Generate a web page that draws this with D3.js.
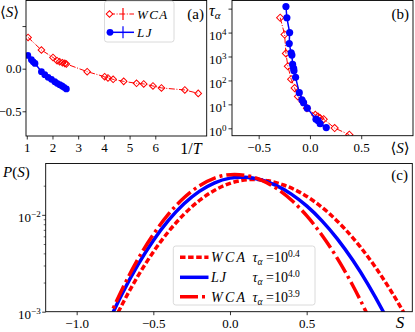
<!DOCTYPE html>
<html><head><meta charset="utf-8">
<script src="https://cdn.jsdelivr.net/npm/d3@7"></script>
<style>body{margin:0;background:#fff}</style>
</head><body>
<script>
// ---------- data ----------
// panel (a): <S> vs 1/T
const aWcaInvT = [1.05,1.57,2.02,2.18,2.28,2.39,2.48,2.54,3.35,4.03,4.16,4.36,4.77,5.27,5.55,5.91,6.24,7.15,7.67];
const aWcaS    = [0.367,0.219,0.132,0.094,0.082,0.070,0.062,0.055,-0.035,-0.094,-0.109,-0.125,-0.149,-0.172,-0.179,-0.203,-0.226,-0.250,-0.290];
const aLjInvT  = [1.04,1.18,1.25,1.32,1.57,1.70,1.83,1.96,2.09,2.18,2.28,2.37,2.45,2.54];
const aLjS     = [0.155,0.105,0.080,0.062,-0.035,-0.070,-0.102,-0.125,-0.152,-0.172,-0.188,-0.203,-0.219,-0.238];
const aXTicks = [1,2,3,4,5,6];
const aYTicks = [0.5,0.0,-0.5];
const aYTickLabels = ["","0.0","\u22120.5"];
// panel (b): tau_alpha vs <S>  (log10 tau)
const bWcaS      = [-0.290,-0.247,-0.234,-0.215,-0.183,-0.149,-0.117,-0.071,-0.029,0.052,0.078,0.100,0.134,0.241,0.384];
const bWcaLogTau = [4.62,3.92,3.13,2.59,2.05,1.68,1.33,1.11,0.84,0.56,0.49,0.42,0.38,0.01,-0.27];
const bLjS       = [-0.234,-0.225,-0.198,-0.202,-0.183,-0.176,-0.169,-0.159,-0.156,-0.140,-0.104,-0.078,-0.062,-0.026,0.059,0.078,0.100,0.159];
const bLjLogTau  = [5.09,4.62,4.00,3.54,3.15,3.06,2.67,2.50,2.40,2.13,1.49,1.19,1.07,0.84,0.38,0.32,0.19,0.03];
const bXTicks = [-0.5,0.0,0.5];
const bXTickLabels = ["\u22120.5","0.0","0.5"];
const bYTickExp = [0,1,2,3,4,5];
const bYTickLabels = ["0","1","2","3","4",""];
// panel (c): P(S) (log10 P)
const cWca04S    = [-0.8,-0.7,-0.6,-0.5,-0.4,-0.3,-0.2,-0.1,0.0,0.15,0.25,0.35,0.45,0.55,0.65,0.75,0.85,0.95,1.05,1.15,1.2];
const cWca04LogP = [-3.233,-2.915,-2.631,-2.383,-2.171,-1.994,-1.852,-1.746,-1.675,-1.635,-1.649,-1.692,-1.763,-1.862,-1.990,-2.147,-2.331,-2.544,-2.786,-3.056,-3.202];
const cLjS       = [-0.8,-0.7,-0.6,-0.5,-0.4,-0.3,-0.2,-0.1,0.0,0.07,0.1,0.2,0.3,0.4,0.5,0.6,0.7,0.8,0.9,1.0,1.05];
const cLjLogP    = [-3.133,-2.803,-2.514,-2.264,-2.055,-1.886,-1.758,-1.669,-1.621,-1.611,-1.612,-1.638,-1.696,-1.786,-1.908,-2.062,-2.248,-2.467,-2.717,-3.0,-3.153];
const cWca39S    = [-0.82,-0.7,-0.6,-0.5,-0.4,-0.3,-0.2,-0.1,0.03,0.1,0.2,0.3,0.4,0.5,0.6,0.7,0.8,0.9,0.95];
const cWca39LogP = [-3.175,-2.757,-2.457,-2.202,-1.990,-1.823,-1.700,-1.620,-1.583,-1.592,-1.639,-1.724,-1.847,-2.009,-2.210,-2.449,-2.727,-3.043,-3.216];
const cXTicks = [-1.0,-0.5,0.0,0.5];
const cXTickLabels = ["\u22121.0","\u22120.5","0.0","0.5"];
const cYTickExp = [-2,-3];
const cYTickLabels = ["\u22122","\u22123"];
const cYMinor = [0.002,0.003,0.004,0.005,0.006,0.007,0.008,0.009,0.02];
const legendA = ["WCA","LJ"];
const legendC = [["WCA","0.4"],["LJ","4.0"],["WCA","3.9"]];

// ---------- drawing ----------
const FONT = '"Liberation Serif","DejaVu Serif",serif';
const RED = "#ff0000", BLUE = "#0000ff";
const svg = d3.select("body").append("svg").attr("width",415).attr("height",332)
  .style("font-family",FONT);
const defs = svg.append("defs");
function clip(id,x0,y0,x1,y1){
  defs.append("clipPath").attr("id",id).append("rect")
    .attr("x",x0).attr("y",y0).attr("width",x1-x0).attr("height",y1-y0);
}
function styleAxis(g,fs){
  g.select(".domain").remove();
  g.selectAll(".tick line").attr("stroke","#000").attr("stroke-width",0.8);
  g.selectAll(".tick text").attr("font-family",FONT).attr("font-size",fs||13).attr("fill","#000");
}
function frame(b){
  svg.append("rect").attr("x",b.l).attr("y",b.t).attr("width",b.r-b.l).attr("height",b.b-b.t)
    .attr("fill","none").attr("stroke","#000").attr("stroke-width",0.9);
}
function diamond(sel,size){
  return sel.attr("d",d3.symbol().type(d3.symbolSquare).size(size)());
}

// ===== Panel (a) =====
const A = {l:26,r:206.7,t:0.5,b:136};
clip("clipA",A.l,A.t,A.r,A.b);
const xA = d3.scaleLinear().domain([0.97,8.0]).range([A.l,A.r]);
const yA = d3.scaleLinear().domain([-0.79,0.80]).range([A.b,A.t]);
const gA = svg.append("g").attr("clip-path","url(#clipA)");
const wcaA = aWcaInvT.map((v,i)=>[v,aWcaS[i]]);
const ljA = aLjInvT.map((v,i)=>[v,aLjS[i]]);
gA.append("path").datum(wcaA).attr("fill","none").attr("stroke",RED).attr("stroke-width",1)
  .attr("stroke-dasharray","6,1.6,1,1.6")
  .attr("d",d3.line().x(d=>xA(d[0])).y(d=>yA(d[1])));
gA.selectAll(".wd").data(wcaA).enter().append("path")
  .call(diamond,22).attr("transform",d=>`translate(${xA(d[0])},${yA(d[1])}) rotate(45)`)
  .attr("fill","none").attr("stroke",RED).attr("stroke-width",1);
gA.append("path").datum(ljA).attr("fill","none").attr("stroke",BLUE).attr("stroke-width",1.5)
  .attr("d",d3.line().x(d=>xA(d[0])).y(d=>yA(d[1])));
gA.selectAll(".lc").data(ljA).enter().append("circle")
  .attr("cx",d=>xA(d[0])).attr("cy",d=>yA(d[1])).attr("r",3.4).attr("fill",BLUE);
const axA = svg.append("g").attr("transform",`translate(0,${A.b})`)
  .call(d3.axisBottom(xA).tickValues(aXTicks).tickFormat(d3.format("d")).tickSize(3.5));
styleAxis(axA); axA.selectAll(".tick text").attr("y",16).attr("dy",0);
const ayA = svg.append("g").attr("transform",`translate(${A.l},0)`)
  .call(d3.axisLeft(yA).tickValues(aYTicks).tickFormat((d,i)=>aYTickLabels[i]).tickSize(3.5));
styleAxis(ayA, 12.5); ayA.selectAll(".tick text").attr("x",-4.5);
frame(A);
// labels
svg.append("text").attr("x",0).attr("y",17).attr("font-size",15)
  .call(t=>{t.append("tspan").text("\u27E8");t.append("tspan").attr("font-style","italic").text("S");t.append("tspan").text("\u27E9");});
svg.append("text").attr("x",204).attr("y",19).attr("text-anchor","end").attr("font-size",15).text("(a)");
svg.append("text").attr("x",191).attr("y",154).attr("text-anchor","middle").attr("font-size",16)
  .call(t=>{t.append("tspan").text("1/");t.append("tspan").attr("font-style","italic").text("T");});
// legend (a)
const lgA = svg.append("g");
lgA.append("rect").attr("x",104.5).attr("y",1).attr("width",69.5).attr("height",41).attr("rx",2.5)
  .attr("fill","#fff").attr("fill-opacity",0.85).attr("stroke","#d0d0d0").attr("stroke-width",0.8);
[[RED,14],[BLUE,32.3]].forEach(([c,y],i)=>{
  const g = lgA.append("g");
  g.append("line").attr("x1",109).attr("x2",134).attr("y1",y).attr("y2",y).attr("stroke",c)
    .attr("stroke-width",i===0?1:1.5).attr("stroke-dasharray",i===0?"6,1.6,1,1.6":null);
  g.append("line").attr("x1",123).attr("x2",123).attr("y1",y-6).attr("y2",y+6).attr("stroke",c).attr("stroke-width",1.2);
  if(i===0){ g.append("path").call(diamond,22).attr("transform",`translate(109.5,${y}) rotate(45)`)
      .attr("fill","#fff").attr("stroke",c).attr("stroke-width",1); }
  else { g.append("circle").attr("cx",110).attr("cy",y).attr("r",3.4).attr("fill",c); }
  g.append("text").attr("x",137).attr("y",y+4.5).attr("font-size",13).attr("font-style","italic")
    .attr("letter-spacing",1.4).text(legendA[i]);
});

// ===== Panel (b) =====
const B = {l:232,r:413,t:0.5,b:135.7};
clip("clipB",B.l,B.t,B.r,B.b);
const xB = d3.scaleLinear().domain([-0.76,1.005]).range([B.l,B.r]);
const yB = d3.scaleLog().domain([Math.pow(10,-0.31),Math.pow(10,5.34)]).range([B.b,B.t]);
const gB = svg.append("g").attr("clip-path","url(#clipB)");
const wcaB = bWcaS.map((v,i)=>[v,Math.pow(10,bWcaLogTau[i])]);
const ljB = bLjS.map((v,i)=>[v,Math.pow(10,bLjLogTau[i])]);
gB.append("path").datum(wcaB).attr("fill","none").attr("stroke",RED).attr("stroke-width",1)
  .attr("stroke-dasharray","6,1.6,1,1.6")
  .attr("d",d3.line().x(d=>xB(d[0])).y(d=>yB(d[1])));
gB.selectAll(".wd").data(wcaB).enter().append("path")
  .call(diamond,26).attr("transform",d=>`translate(${xB(d[0])},${yB(d[1])}) rotate(45)`)
  .attr("fill","none").attr("stroke",RED).attr("stroke-width",1);
gB.append("path").datum(ljB).attr("fill","none").attr("stroke",BLUE).attr("stroke-width",1.5)
  .attr("d",d3.line().x(d=>xB(d[0])).y(d=>yB(d[1])));
gB.selectAll(".lc").data(ljB).enter().append("circle")
  .attr("cx",d=>xB(d[0])).attr("cy",d=>yB(d[1])).attr("r",3.6).attr("fill",BLUE);
const axB = svg.append("g").attr("transform",`translate(0,${B.b})`)
  .call(d3.axisBottom(xB).tickValues(bXTicks).tickFormat((d,i)=>bXTickLabels[i]).tickSize(3.5));
styleAxis(axB); axB.selectAll(".tick text").attr("y",16.3).attr("dy",0);
const ayB = svg.append("g").attr("transform",`translate(${B.l},0)`)
  .call(d3.axisLeft(yB).tickValues(bYTickExp.map(e=>Math.pow(10,e))).tickFormat("").tickSize(3.5));
styleAxis(ayB);
ayB.selectAll(".tick text").each(function(d,i){
  const t = d3.select(this); t.text(null); t.attr("dy","0.55em").attr("x",-5.5);
  if(bYTickLabels[i]==="") return;
  t.append("tspan").text("10");
  t.append("tspan").attr("dy",-5).attr("font-size",9).text(bYTickLabels[i]);
});
frame(B);
svg.append("text").attr("x",209).attr("y",16).attr("font-size",16)
  .call(t=>{t.append("tspan").attr("font-style","italic").text("\u03C4");
            t.append("tspan").attr("dy",3).attr("font-size",11).attr("font-style","italic").text("\u03B1");});
svg.append("text").attr("x",409).attr("y",19).attr("text-anchor","end").attr("font-size",15).text("(b)");
svg.append("text").attr("x",400).attr("y",153).attr("text-anchor","middle").attr("font-size",15)
  .call(t=>{t.append("tspan").text("\u27E8");t.append("tspan").attr("font-style","italic").text("S");t.append("tspan").text("\u27E9");});

// ===== Panel (c) =====
const C = {l:45.7,r:412.3,t:163.5,b:311.7};
clip("clipC",C.l,C.t,C.r,C.b);
const xC = d3.scaleLinear().domain([-1.202,1.189]).range([C.l,C.r]);
const yC = d3.scaleLog().domain([1e-3,Math.pow(10,-1.47)]).range([C.b,C.t]);
const gC = svg.append("g").attr("clip-path","url(#clipC)");
const lineC = d3.line().curve(d3.curveMonotoneX).x(d=>xC(d[0])).y(d=>yC(d[1]));
const seriesC = [
  {s:cWca04S,p:cWca04LogP,c:RED,dash:"5.5,2.6",w:3.5},
  {s:cLjS,p:cLjLogP,c:BLUE,dash:null,w:3.5},
  {s:cWca39S,p:cWca39LogP,c:RED,dash:"18,4,3,4",w:3.5}
];
seriesC.forEach(o=>{
  gC.append("path").datum(o.s.map((v,i)=>[v,Math.pow(10,o.p[i])]))
    .attr("fill","none").attr("stroke",o.c).attr("stroke-width",o.w)
    .attr("stroke-dasharray",o.dash).attr("d",lineC);
});
const axC = svg.append("g").attr("transform",`translate(0,${C.b})`)
  .call(d3.axisBottom(xC).tickValues(cXTicks).tickFormat((d,i)=>cXTickLabels[i]).tickSize(3.5));
styleAxis(axC); axC.selectAll(".tick text").attr("y",16.5).attr("dy",0);
const ayCm = svg.append("g").attr("transform",`translate(${C.l},0)`)
  .call(d3.axisLeft(yC).tickValues(cYMinor).tickFormat("").tickSize(2));
styleAxis(ayCm); ayCm.selectAll(".tick line").attr("stroke-width",0.6);
const ayC = svg.append("g").attr("transform",`translate(${C.l},0)`)
  .call(d3.axisLeft(yC).tickValues(cYTickExp.map(e=>Math.pow(10,e))).tickFormat("").tickSize(3.5));
styleAxis(ayC);
ayC.selectAll(".tick text").each(function(d,i){
  const t = d3.select(this); t.text(null); t.attr("dy","0.5em").attr("x",-5);
  t.append("tspan").text("10");
  t.append("tspan").attr("dy",-5).attr("font-size",9).text(cYTickLabels[i]);
});
frame(C);
svg.append("text").attr("x",3).attr("y",177).attr("font-size",15)
  .call(t=>{t.append("tspan").attr("font-style","italic").text("P");t.append("tspan").text("(");
            t.append("tspan").attr("font-style","italic").text("S");t.append("tspan").text(")");});
svg.append("text").attr("x",408).attr("y",180).attr("text-anchor","end").attr("font-size",15).text("(c)");
svg.append("text").attr("x",400).attr("y",327.5).attr("text-anchor","middle").attr("font-size",17)
  .attr("font-style","italic").text("S");
// legend (c)
const lgC = svg.append("g");
lgC.append("rect").attr("x",173.3).attr("y",246).attr("width",141.7).attr("height",59).attr("rx",2.5)
  .attr("fill","#fff").attr("fill-opacity",0.85).attr("stroke","#d0d0d0").attr("stroke-width",0.8);
[257.3,277.3,296.7].forEach((y,i)=>{
  const o = seriesC[i];
  lgC.append("line").attr("x1",180).attr("x2",208.5).attr("y1",y).attr("y2",y)
    .attr("stroke",o.c).attr("stroke-width",o.w).attr("stroke-dasharray",o.dash);
  lgC.append("text").attr("x",211).attr("y",y+5).attr("font-size",14).attr("font-style","italic")
    .attr("letter-spacing",i===1?1:2.3).text(legendC[i][0]);
  lgC.append("text").attr("x",252.5).attr("y",y+5).attr("font-size",14)
    .call(t=>{t.append("tspan").attr("font-style","italic").text("\u03C4");
      t.append("tspan").attr("dy",3).attr("font-size",9.5).attr("font-style","italic").text("\u03B1");
      t.append("tspan").attr("dy",-3).text(" =10");
      t.append("tspan").attr("dy",-5).attr("font-size",9.5).text(legendC[i][1]);});
});
</script>
</body></html>
